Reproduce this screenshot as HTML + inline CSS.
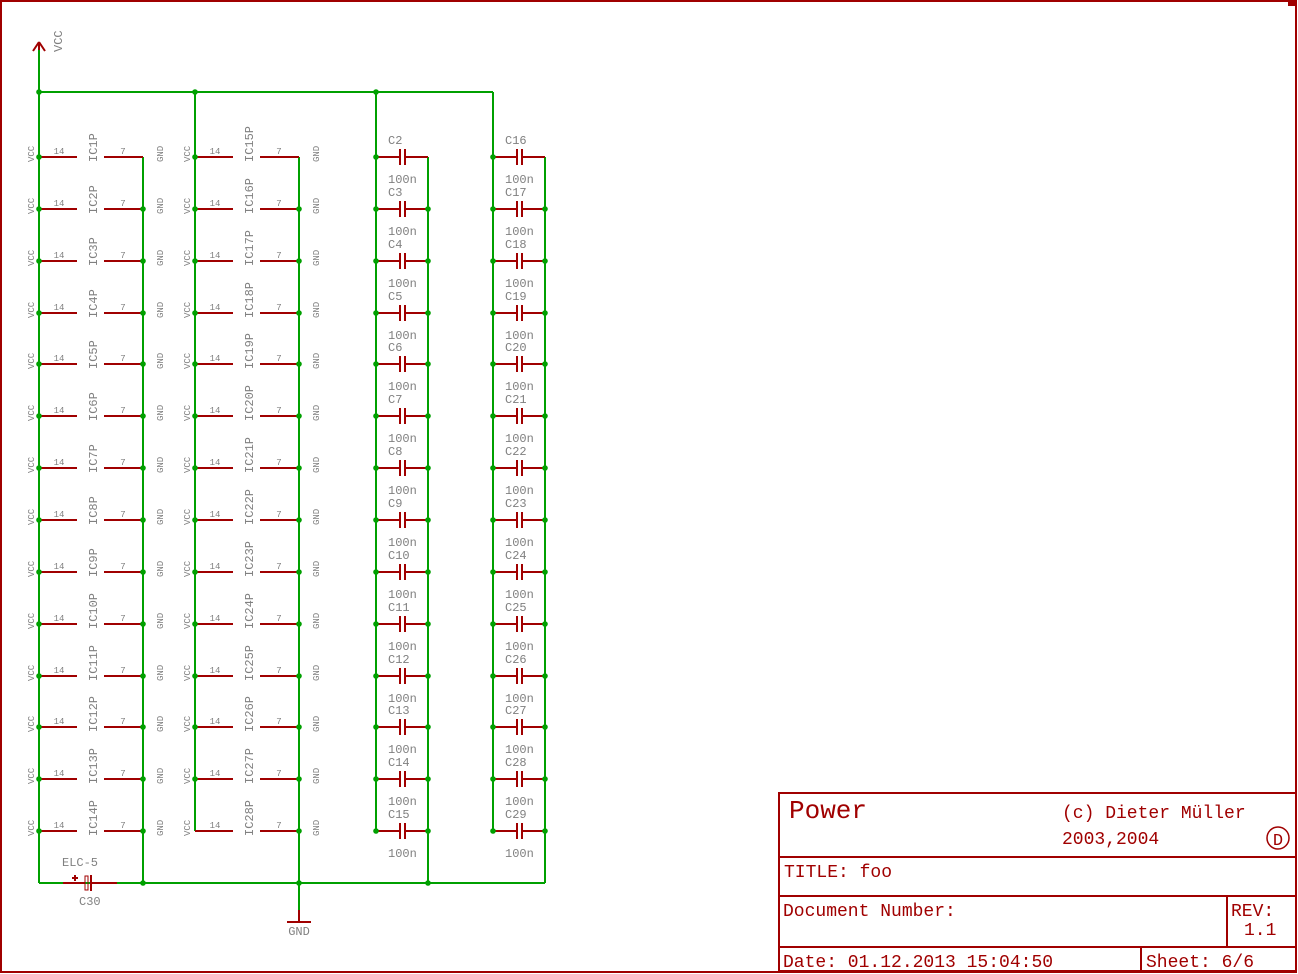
<!DOCTYPE html>
<html><head><meta charset="utf-8"><style>
html,body{margin:0;padding:0;background:#fff;}
svg{display:block;}
text{font-family:"Liberation Mono",monospace;}
.g{fill:#808080;font-size:12px;}
.s{fill:#808080;font-size:9px;}
.t{fill:#a00000;}
</style></head><body>
<svg id="s" width="1298" height="974" viewBox="0 0 1298 974" xmlns="http://www.w3.org/2000/svg">
<rect x="1" y="1" width="1295" height="971" fill="none" stroke="#a00000" stroke-width="2"/>
<rect x="1288" y="1" width="8" height="5" fill="#a00000"/>
<g id="w" stroke="#00a000" stroke-width="2" fill="none"></g>
<g id="r" stroke="#a00000" stroke-width="2" fill="none"></g>
<g id="d" fill="#00a000"></g>
<g id="tx"></g>
<!-- title block -->
<g stroke="#a00000" stroke-width="2" fill="none">
<rect x="779" y="793" width="517" height="178"/>
<line x1="779" y1="857" x2="1296" y2="857"/>
<line x1="779" y1="896" x2="1296" y2="896"/>
<line x1="779" y1="947" x2="1296" y2="947"/>
<line x1="1227" y1="896" x2="1227" y2="947"/>
<line x1="1141" y1="947" x2="1141" y2="971"/>
<circle cx="1278" cy="838" r="11" stroke-width="1.5"/>
</g>
<g class="t">
<text x="789" y="818" font-size="26">Power</text>
<text x="1062" y="818" font-size="18">(c) Dieter Müller</text>
<text x="1062" y="844" font-size="18">2003,2004</text>
<text x="1278" y="845" font-size="17" text-anchor="middle">D</text>
<text x="784" y="877" font-size="18">TITLE:  foo</text>
<text x="783" y="916" font-size="18">Document Number:</text>
<text x="1231" y="916" font-size="18">REV:</text>
<text x="1244" y="935" font-size="18">1.1</text>
<text x="783" y="967" font-size="18">Date: 01.12.2013 15:04:50</text>
<text x="1146" y="967" font-size="18">Sheet: 6/6</text>
</g>
</svg>
<script>
var W=document.getElementById('w'),R=document.getElementById('r'),D=document.getElementById('d'),T=document.getElementById('tx');
var NS='http://www.w3.org/2000/svg';
function ln(g,x1,y1,x2,y2){var e=document.createElementNS(NS,'line');e.setAttribute('x1',x1);e.setAttribute('y1',y1);e.setAttribute('x2',x2);e.setAttribute('y2',y2);g.appendChild(e);}
function dot(x,y){var e=document.createElementNS(NS,'circle');e.setAttribute('cx',x);e.setAttribute('cy',y);e.setAttribute('r',2.8);D.appendChild(e);}
function tx(s,x,y,cls,rot,anchor){var e=document.createElementNS(NS,'text');e.textContent=s;e.setAttribute('x',x);e.setAttribute('y',y);e.setAttribute('class',cls);if(anchor)e.setAttribute('text-anchor',anchor);if(rot)e.setAttribute('transform','rotate(-90 '+x+' '+y+')');T.appendChild(e);}
function Y(i){return Math.round(157+51.85*i);}
// main wires
ln(W,39,45,39,883);ln(W,39,92,493,92);
ln(W,195,92,195,831);ln(W,376,92,376,831);ln(W,493,92,493,831);
ln(W,143,157,143,883);ln(W,299,157,299,921);
ln(W,428,157,428,883);ln(W,545,157,545,883);
ln(W,39,883,545,883);
dot(39,92);dot(195,92);dot(376,92);
dot(143,883);dot(299,883);dot(428,883);
// VCC arrow
ln(R,33,51,39,42);ln(R,45,51,39,42);ln(R,39,42,39,50);
tx('VCC',62,52,'g',true);
// GND symbol
ln(R,287,922,311,922);ln(R,299,910,299,921);
tx('GND',299,935,'g',false,'middle');
// C30
ln(R,63,883,85,883);ln(R,92,883,117,883);
var e=document.createElementNS(NS,'rect');e.setAttribute('x',85);e.setAttribute('y',876);e.setAttribute('width',3);e.setAttribute('height',14);e.setAttribute('stroke-width','1');R.appendChild(e);
ln(R,91,875,91,891);
ln(R,72,878,78,878);ln(R,75,875,75,881);
tx('ELC-5',62,866,'g');tx('C30',79,905,'g');
// IC rows
for(var i=0;i<14;i++){var y=Y(i);
 [[39,143,1],[195,299,15]].forEach(function(c){var a=c[0],b=c[1];
  ln(R,a,y,a+38,y);ln(R,a+65,y,b,y);
  if(!(a==195&&i==13))dot(a,y);
  if(i>0)dot(b,y);
  tx('VCC',a-5,y+5,'s',true);tx('GND',b+20,y+5,'s',true);
  tx('14',a+20,y-3,'s',false,'middle');tx('7',a+84,y-3,'s',false,'middle');
  tx('IC'+(c[2]+i)+'P',a+58,y+5,'g',true);
 });
 [[376,428,2],[493,545,16]].forEach(function(c){var a=c[0],b=c[1];
  ln(R,a,y,a+24,y);ln(R,a+29,y,b,y);
  ln(R,a+24,y-8,a+24,y+8);ln(R,a+29,y-8,a+29,y+8);
  dot(a,y);if(i>0)dot(b,y);
  tx('C'+(c[2]+i),a+12,y-13,'g');
  tx('100n',a+12,y+26,'g');
 });
}
</script>
</body></html>
